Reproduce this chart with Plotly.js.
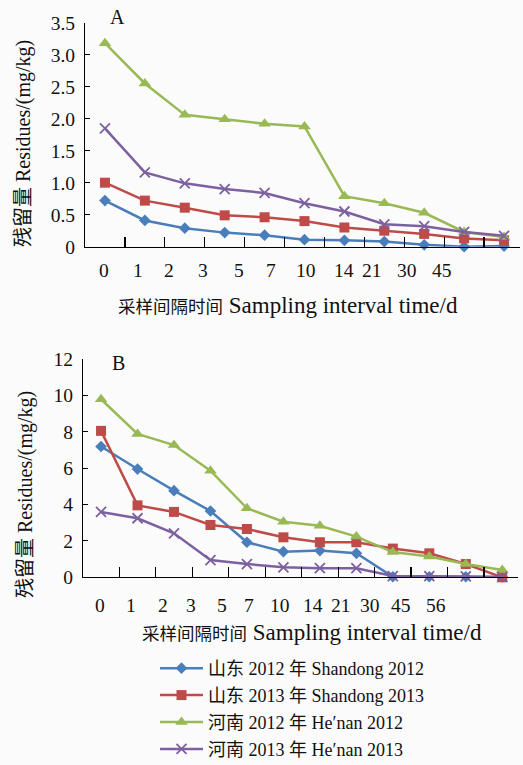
<!DOCTYPE html>
<html><head><meta charset="utf-8">
<script src="https://cdn.plot.ly/plotly-3.0.1.min.js"></script>
<style>html,body{margin:0;padding:0;background:#fbfbfb}</style>
</head><body><div id="chart" style="width:523px;height:765px"></div>
<script>
// ---- data ----
const labelsA = ['0','1','2','3','5','7','10','14','21','30','45'];
const labelsB = ['0','1','2','3','5','7','10','14','21','30','45','56'];
const yTicksA = [0,0.5,1,1.5,2,2.5,3,3.5];
const yTextA = ['0','0.5','1.0','1.5','2.0','2.5','3.0','3.5'];
const yTicksB = [0,2,4,6,8,10,12];
const yTextB = ['0','2','4','6','8','10','12'];

const sd2012A = [0.72, 0.41, 0.29, 0.22, 0.18, 0.11, 0.10, 0.08, 0.03, 0.00, 0.01];
const sd2013A = [1.00, 0.72, 0.61, 0.49, 0.46, 0.40, 0.30, 0.25, 0.20, 0.13, 0.10];
const hn2012A = [3.18, 2.55, 2.06, 1.99, 1.92, 1.88, 0.79, 0.68, 0.53, 0.23, 0.15];
const hn2013A = [1.85, 1.16, 0.99, 0.90, 0.84, 0.68, 0.55, 0.35, 0.32, 0.23, 0.17];

const sd2012B = [7.20, 5.96, 4.77, 3.65, 1.93, 1.41, 1.47, 1.32, 0.03, 0.03, 0.03, 0.02];
const sd2013B = [8.06, 3.96, 3.60, 2.88, 2.66, 2.20, 1.93, 1.93, 1.58, 1.32, 0.73, 0.00];
const hn2012B = [9.80, 7.89, 7.28, 5.87, 3.80, 3.06, 2.84, 2.24, 1.39, 1.14, 0.73, 0.40];
const hn2013B = [3.60, 3.25, 2.42, 0.95, 0.73, 0.55, 0.50, 0.50, 0.07, 0.07, 0.05, 0.02];

const seriesNames = ['山东 2012 年 Shandong 2012','山东 2013 年 Shandong 2013','河南 2012 年 He′nan 2012','河南 2013 年 He′nan 2013'];

// ---- styles ----
const W = 523, H = 765;
const FONT = '"Liberation Serif", "Times New Roman", "Noto Sans CJK SC", serif';
const colors = ['#4a7ebb','#be4b48','#98b954','#7d60a0'];
const markers = [
  {symbol:'diamond', size:9},
  {symbol:'square', size:10},
  {symbol:'triangle-up', size:11},
  {symbol:'x-thin', size:10}
];
const idxA = labelsA.map((_, i) => i);
const idxB = labelsB.map((_, i) => i);

function mk(x, y, k, xa, ya, showleg) {
  const m = Object.assign({color: colors[k]}, markers[k]);
  if (markers[k].symbol === 'x-thin') m.line = {color: colors[k], width: 1.8};
  return {x, y, type:'scatter', mode:'lines+markers', name: seriesNames[k],
    xaxis: xa, yaxis: ya, showlegend: showleg, legendgroup: 'g'+k,
    line:{color: colors[k], width: 2.5}, marker: m, cliponaxis:false};
}
const dataA = [sd2012A, sd2013A, hn2012A, hn2013A];
const dataB = [sd2012B, sd2013B, hn2012B, hn2013B];
const traces = [];
dataA.forEach((y, k) => traces.push(mk(idxA, y, k, 'x', 'y', false)));
dataB.forEach((y, k) => traces.push(mk(idxB, y, k, 'x2', 'y2', true)));

// label & tick-mark positions (layout)
const labelPosA = [-0.03, 0.83, 1.6, 2.45, 3.37, 4.17, 5.05, 6.0, 6.7, 7.57, 8.45];
const labelPosB = [-0.04, 0.83, 1.70, 2.47, 3.31, 4.07, 4.92, 5.82, 6.58, 7.37, 8.22, 9.17];
const endA = 10.4, endB = 11.44;
const marksA = idxA.slice(0, -1).map(i => i + 0.5).concat([endA]);
const marksB = idxB.slice(0, -1).map(i => i + 0.5).concat([endB]);

function xax(domain, range, marks, anchor) {
  return {domain, range, anchor, tickmode:'array', tickvals: marks, ticktext: marks.map(() => ' '),
    ticks:'inside', ticklen:10, tickcolor:'#000', tickwidth:1.2,
    showline:true, linecolor:'#000', linewidth:1, showgrid:false, zeroline:false};
}
function yax(domain, range, vals, text, anchor) {
  return {domain, range, anchor, tickmode:'array', tickvals: vals, ticktext: text,
    ticks:'inside', ticklen:5, tickcolor:'#000', showline:true, linecolor:'#000', linewidth:1,
    showgrid:false, zeroline:false, tickfont:{family: FONT, size:19.5, color:'#111'}, ticklabelstandoff: 5};
}

const ann = [];
function A(o) { ann.push(Object.assign({xref:'paper', yref:'paper', showarrow:false, xanchor:'center', yanchor:'middle'}, o)); }
labelsA.forEach((t, i) => A({text:t, xref:'x', x: labelPosA[i], y: 1-270/H, font:{family:FONT, size:19.5, color:'#111'}}));
labelsB.forEach((t, i) => A({text:t, xref:'x2', x: labelPosB[i], y: 1-605/H, font:{family:FONT, size:19.5, color:'#111'}}));
A({text:'A', x:117/W, y:1-17/H, font:{family:FONT, size:20, color:'#111'}});
A({text:'B', x:118/W, y:1-363/H, font:{family:FONT, size:20, color:'#111'}});
A({text:'残留量 Residues/(mg/kg)', textangle:-90, x:23/W, y:1-144/H, font:{family:FONT, size:20, color:'#111'}});
A({text:'残留量 Residues/(mg/kg)', textangle:-90, x:25/W, y:1-495/H, font:{family:FONT, size:20, color:'#111'}});
const xTitle = '<span style="font-size:17.5px">采样间隔时间</span> Sampling interval time/d';
A({text:xTitle, x:288/W, y:1-305/H, font:{family:FONT, size:23, color:'#111'}});
A({text:xTitle, x:312/W, y:1-632/H, font:{family:FONT, size:23, color:'#111'}});

const layout = {
  width: W, height: H, margin:{l:0,r:0,t:0,b:0, autoexpand:false},
  paper_bgcolor:'#fbfbfb', plot_bgcolor:'rgba(0,0,0,0)',
  font:{family: FONT, color:'#111'},
  xaxis: xax([85/W, 520/W], [-0.5, endA], marksA, 'y'),
  yaxis: yax([1-246.7/H, 1-22.7/H], [0, 3.5], yTicksA, yTextA, 'x'),
  xaxis2: xax([82.8/W, 518.3/W], [-0.5, endB], marksB, 'y2'),
  yaxis2: yax([1-577.3/H, 1-359.3/H], [0, 12], yTicksB, yTextB, 'x2'),
  showlegend: true,
  legend:{x:155/W, y:1-650/H, xanchor:'left', yanchor:'top', bgcolor:'rgba(0,0,0,0)',
    font:{family: FONT, size:18, color:'#111'}, tracegroupgap: 0.5, itemwidth:43},
  annotations: ann
};
Plotly.newPlot('chart', traces, layout, {displayModeBar:false, staticPlot:true});
</script></body></html>
